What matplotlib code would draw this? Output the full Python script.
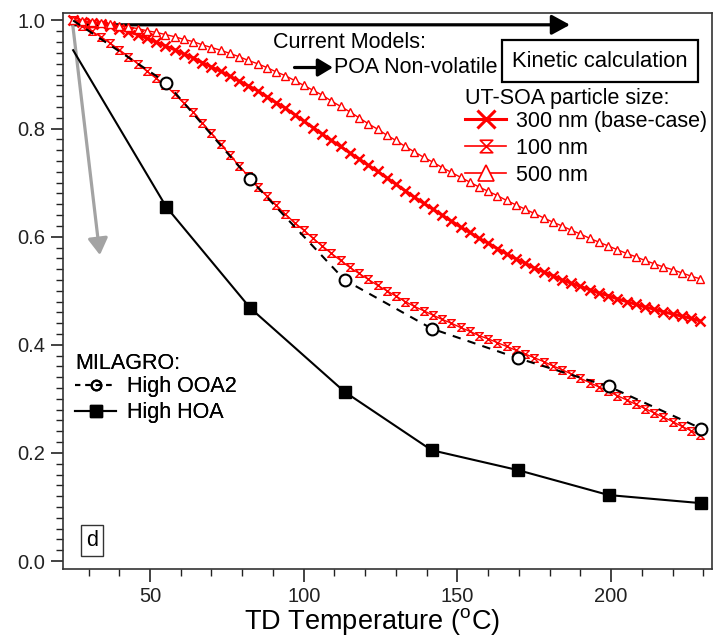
import matplotlib
matplotlib.use("Agg")
import matplotlib.pyplot as plt
from matplotlib.lines import Line2D
from matplotlib.path import Path
from matplotlib.ticker import MultipleLocator, FixedLocator, FormatStrFormatter

plt.rcParams['font.family'] = ['Liberation Sans', 'DejaVu Sans']
plt.rcParams['mathtext.default'] = 'regular'

# ---- MILAGRO thermogram measurements ----
milagro_temp = [25, 55.3, 82.6, 113.3, 141.6, 169.8, 199.2, 229.3]
high_ooa2 = [1.0, 0.885, 0.706, 0.520, 0.430, 0.375, 0.323, 0.245]
high_hoa = [0.945, 0.655, 0.468, 0.313, 0.205, 0.168, 0.122, 0.107]

# ---- Kinetic model, UT-SOA particle size ----
model_temp = [25, 28, 31, 34, 37, 40, 43, 46, 49, 52, 55, 58, 61, 64, 67, 70,
              73, 76, 79, 82, 85, 88, 91, 94, 97, 100, 103, 106, 109, 112,
              115, 118, 121, 124, 127, 130, 133, 136, 139, 142, 145, 148,
              151, 154, 157, 160, 163, 166, 169, 172, 175, 178, 181, 184,
              187, 190, 193, 196, 199, 202, 205, 208, 211, 214, 217, 220,
              223, 226, 229]

size_300nm = [1.000, 0.998, 0.996, 0.994, 0.990, 0.985, 0.979, 0.974, 0.967,
              0.960, 0.953, 0.946, 0.938, 0.931, 0.922, 0.914, 0.906, 0.897,
              0.888, 0.879, 0.870, 0.859, 0.848, 0.838, 0.826, 0.814, 0.802,
              0.790, 0.778, 0.767, 0.755, 0.744, 0.732, 0.721, 0.709, 0.697,
              0.685, 0.673, 0.662, 0.651, 0.640, 0.629, 0.618, 0.608, 0.597,
              0.588, 0.578, 0.568, 0.559, 0.551, 0.542, 0.535, 0.528, 0.520,
              0.514, 0.508, 0.502, 0.496, 0.491, 0.485, 0.480, 0.475, 0.470,
              0.466, 0.461, 0.457, 0.453, 0.449, 0.444]

size_100nm = [1.000, 0.990, 0.980, 0.970, 0.958, 0.946, 0.933, 0.920, 0.906,
              0.893, 0.880, 0.864, 0.847, 0.831, 0.811, 0.791, 0.771, 0.751,
              0.731, 0.712, 0.692, 0.675, 0.658, 0.642, 0.626, 0.612, 0.597,
              0.583, 0.569, 0.556, 0.543, 0.532, 0.521, 0.510, 0.500, 0.490,
              0.480, 0.471, 0.463, 0.455, 0.447, 0.440, 0.432, 0.425, 0.417,
              0.411, 0.404, 0.397, 0.390, 0.383, 0.376, 0.369, 0.361, 0.354,
              0.346, 0.338, 0.330, 0.322, 0.314, 0.306, 0.298, 0.290, 0.282,
              0.274, 0.266, 0.258, 0.249, 0.241, 0.233]

size_500nm = [1.000, 0.999, 0.997, 0.996, 0.993, 0.990, 0.988, 0.985, 0.981,
              0.978, 0.974, 0.970, 0.965, 0.961, 0.955, 0.950, 0.945, 0.939,
              0.933, 0.926, 0.920, 0.913, 0.905, 0.898, 0.889, 0.880, 0.871,
              0.862, 0.851, 0.841, 0.831, 0.820, 0.809, 0.799, 0.788, 0.778,
              0.767, 0.757, 0.747, 0.738, 0.728, 0.719, 0.710, 0.701, 0.692,
              0.684, 0.676, 0.667, 0.659, 0.651, 0.643, 0.635, 0.627, 0.620,
              0.612, 0.605, 0.597, 0.590, 0.583, 0.576, 0.569, 0.563, 0.556,
              0.550, 0.544, 0.539, 0.533, 0.527, 0.522]

size_labels = ['300 nm (base-case)', '100 nm', '500 nm']
milagro_labels = ['High OOA2', 'High HOA']

RED = '#ff0000'
GREY = '#a3a3a3'
FS = 15.5

# hourglass marker: top bar, diagonal, bottom bar, diagonal back
hourglass = Path([(-1, 1), (1, 1), (-1, -1), (1, -1), (-1, 1)],
                 [Path.MOVETO, Path.LINETO, Path.LINETO, Path.LINETO, Path.CLOSEPOLY])

fig = plt.figure(figsize=(7.14, 6.39), dpi=100)
ax = fig.add_axes([63 / 714, 1 - 569 / 639, (712 - 63) / 714, (569 - 12.7) / 639])

# measurements
ax.plot(milagro_temp, high_hoa, color='black', lw=1.5, marker='s', ms=8.5,
        markevery=slice(1, None), zorder=5)
ax.plot(milagro_temp, high_ooa2, color='black', lw=1.5, ls=(0, (4, 3.5)),
        marker='o', ms=8.5, mfc='white', mec='black', mew=1.5,
        markevery=slice(1, None), zorder=6)

# model curves
ax.plot(model_temp, size_300nm, color=RED, lw=2.2, marker='x', ms=7.5, mew=1.8, zorder=4)
ax.plot(model_temp, size_100nm, color=RED, lw=1.0, marker=hourglass, ms=5.5,
        mfc='none', mec=RED, mew=1.0, zorder=4)
ax.plot(model_temp, size_500nm, color=RED, lw=1.0, marker='^', ms=6,
        mfc='white', mec=RED, mew=1.0, zorder=4)

# axes limits and ticks
ax.set_xlim(21.7, 232.8)
ax.set_ylim(-0.0148, 1.0144)
ax.xaxis.set_major_locator(FixedLocator([50, 100, 150, 200]))
ax.xaxis.set_minor_locator(MultipleLocator(10))
ax.yaxis.set_major_locator(MultipleLocator(0.2))
ax.yaxis.set_minor_locator(MultipleLocator(0.02))
ax.yaxis.set_major_formatter(FormatStrFormatter('%.1f'))
ax.tick_params(axis='both', which='major', direction='out', length=9, width=1.2,
               labelsize=14.5, colors='#222222', pad=4)
ax.tick_params(axis='both', which='minor', direction='out', length=5, width=1.0,
               colors='#222222')
for sp in ax.spines.values():
    sp.set_color('#333333')
    sp.set_linewidth(1.2)

ax.set_xlabel('TD Temperature ($^{o}$C)', fontsize=19.5)
ax.xaxis.set_label_coords(0.476, -0.067)

# model annotations
ax.annotate('', xy=(186.6, 0.992), xytext=(24.7, 0.992),
            arrowprops=dict(arrowstyle='-|>,head_length=0.55,head_width=0.3',
                            lw=2.3, color='black', shrinkA=0, shrinkB=0,
                            mutation_scale=20), zorder=3)
ax.text(90, 0.959, 'Current Models:', fontsize=FS, ha='left', va='center', zorder=7)
ax.annotate('', xy=(109.5, 0.913), xytext=(97.0, 0.913),
            arrowprops=dict(arrowstyle='-|>,head_length=0.45,head_width=0.27',
                            lw=2.3, color='black', shrinkA=0, shrinkB=0,
                            mutation_scale=20), zorder=7)
ax.text(109.9, 0.913, 'POA Non-volatile', fontsize=FS, ha='left', va='center', zorder=7)
ax.text(196.3, 0.925, 'Kinetic calculation', fontsize=FS + 0.3, ha='center', va='center',
        zorder=8, bbox=dict(boxstyle='square,pad=0.48', fc='white', ec='black', lw=1.6))

# grey arrow
ax.annotate('', xy=(33.7, 0.566), xytext=(24.7, 1.0),
            arrowprops=dict(arrowstyle='-|>,head_length=0.5,head_width=0.3',
                            lw=2.3, color=GREY, shrinkA=0, shrinkB=0,
                            mutation_scale=20), zorder=3)

# panel tag
ax.text(31.1, 0.038, 'd', fontsize=FS, ha='center', va='center',
        bbox=dict(boxstyle='square,pad=0.25', fc='white', ec='#333333', lw=1.0))

# legends
h300 = Line2D([], [], color=RED, lw=2.2, marker='x', ms=13, mew=2.2)
h100 = Line2D([], [], color=RED, lw=1.2, marker=hourglass, ms=9, mfc='none', mec=RED, mew=1.2)
h500 = Line2D([], [], color=RED, lw=1.2, marker='^', ms=12, mfc='white', mec=RED, mew=1.2)
leg1 = ax.legend([h300, h100, h500], size_labels, title='UT-SOA particle size:',
                 loc='upper left', bbox_to_anchor=(0.620, 0.865), frameon=False,
                 fontsize=FS, title_fontsize=FS, alignment='left',
                 handlelength=1.9, handletextpad=0.45, labelspacing=0.27,
                 borderpad=0, borderaxespad=0)
leg1._legend_box.sep = 1.5
ax.add_artist(leg1)

hooa = Line2D([], [], color='black', lw=1.5, ls=(0, (2.5, 2.5)), marker='o', ms=7,
              mfc='none', mec='black', mew=1.5)
hhoa = Line2D([], [], color='black', lw=1.5, marker='s', ms=8)
leg2 = ax.legend([hooa, hhoa], milagro_labels, title='MILAGRO:',
                 loc='upper left', bbox_to_anchor=(0.019, 0.389), frameon=False,
                 fontsize=FS, title_fontsize=FS, alignment='left',
                 handlelength=1.9, handletextpad=0.5, labelspacing=0.22,
                 borderpad=0, borderaxespad=0)
leg2._legend_box.sep = 2.0
ax.add_artist(leg2)

fig.savefig('out.png', dpi=100)
